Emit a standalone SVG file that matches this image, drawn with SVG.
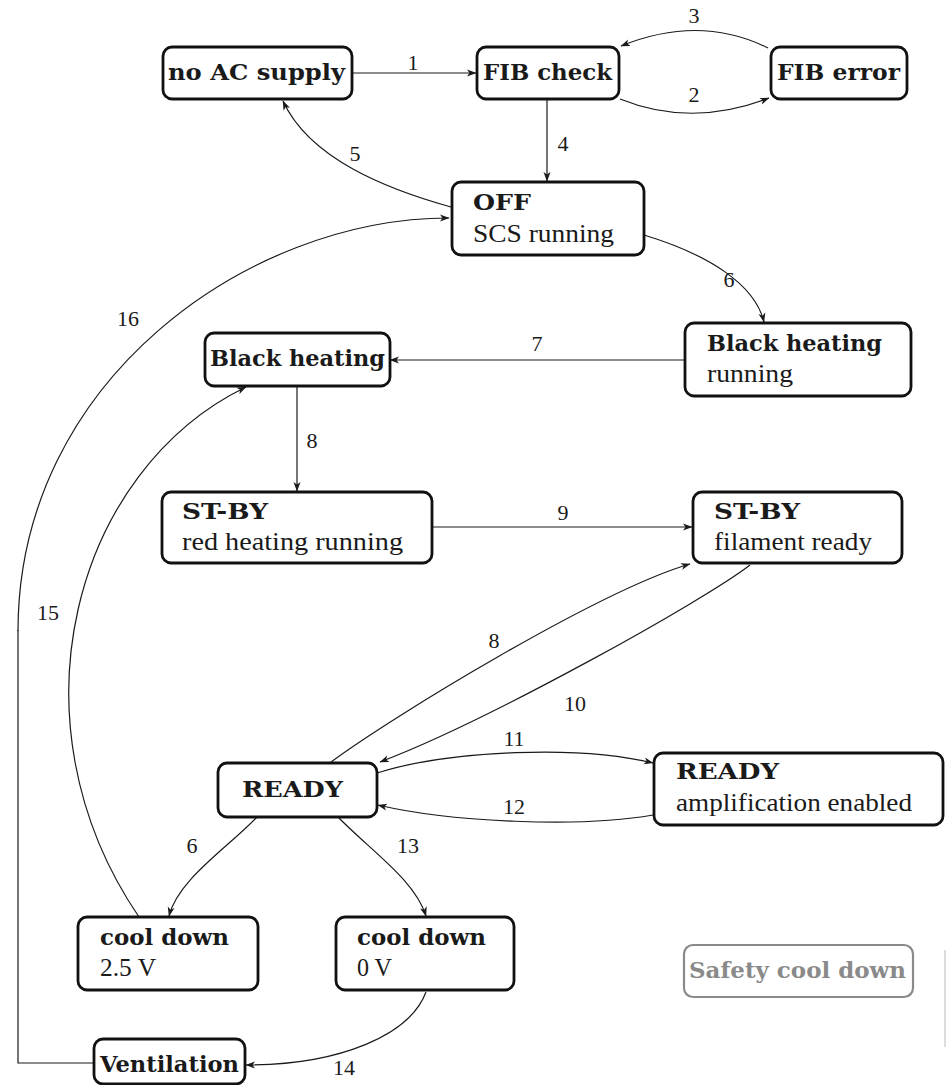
<svg xmlns="http://www.w3.org/2000/svg" width="947" height="1085" viewBox="0 0 947 1085">
<defs>
<marker id="ah" markerWidth="10" markerHeight="8" refX="9" refY="4" orient="auto" markerUnits="userSpaceOnUse">
<path d="M0,0.5 L9.5,4 L0,7.5 L2.5,4 z" fill="#1a1a1a"/>
</marker>
<style>
.box{fill:#fff;stroke:#111;stroke-width:2.8}
.gbox{fill:#fff;stroke:#8a8a8a;stroke-width:2.2}
.t{font-family:'DejaVu Serif','Liberation Serif',serif;font-size:22px;fill:#1a1a1a;font-weight:bold}
.r{font-family:'Liberation Serif','DejaVu Serif',serif;font-size:25px;fill:#1a1a1a}
.g{font-family:'DejaVu Serif','Liberation Serif',serif;font-size:22px;fill:#8a8a8a;font-weight:bold}
.l{font-family:'Liberation Serif','DejaVu Serif',serif;font-size:22px;fill:#1a1a1a;text-anchor:middle}
.c{fill:none;stroke:#1a1a1a;stroke-width:1.2;marker-end:url(#ah)}
.cn{fill:none;stroke:#1a1a1a;stroke-width:1.2}
</style>
</defs>
<rect width="947" height="1085" fill="#fff"/>

<g id="connectors">
<path class="c" d="M352,73 L476,73"/>
<path class="c" d="M768,48 Q700,14 621,46"/>
<path class="c" d="M620,99 Q692,128 769,98"/>
<path class="c" d="M547,99 L547,181"/>
<path class="c" d="M451,207 C390,190 310,160 283,101"/>
<path class="c" d="M644,235 C710,255 755,285 764,322"/>
<path class="c" d="M685,360 L390,360"/>
<path class="c" d="M297,386 L297,491"/>
<path class="c" d="M432,527 L692,527"/>
<path class="cn" d="M94,1063 L18,1063 L18,630"/>
<path class="c" d="M18,631 C18,380 249,218 449,218"/>
<path class="c" d="M139,917 C5,720 75,470 246,387"/>
<path class="c" d="M331,762 C390,718 600,590 690,564"/>
<path class="c" d="M750,565 C705,600 490,720 380,762"/>
<path class="c" d="M377,773 C450,750 580,745 653,763"/>
<path class="c" d="M653,815 C580,828 450,822 378,805"/>
<path class="c" d="M257,817 C225,850 178,880 169,916"/>
<path class="c" d="M338,817 C370,850 415,880 426,916"/>
<path class="c" d="M426,992 C410,1035 340,1065 246,1065"/>
<line x1="945" y1="950" x2="945" y2="1047" stroke="#d0d0d0" stroke-width="1.5"/>
<text class="l" x="413" y="70">1</text>
<text class="l" x="694" y="23">3</text>
<text class="l" x="694" y="102">2</text>
<text class="l" x="563" y="151">4</text>
<text class="l" x="355" y="161">5</text>
<text class="l" x="729" y="287">6</text>
<text class="l" x="128" y="326">16</text>
<text class="l" x="537" y="351">7</text>
<text class="l" x="312" y="448">8</text>
<text class="l" x="563" y="520">9</text>
<text class="l" x="48" y="620">15</text>
<text class="l" x="494" y="648">8</text>
<text class="l" x="575" y="711">10</text>
<text class="l" x="514" y="746">11</text>
<text class="l" x="514" y="814">12</text>
<text class="l" x="192" y="853">6</text>
<text class="l" x="408" y="853">13</text>
<text class="l" x="344" y="1075">14</text>
</g>

<g id="n-noac"><rect class="box" x="163" y="47" width="189" height="52" rx="9"/><text class="t" x="168" y="80" textLength="177" lengthAdjust="spacingAndGlyphs">no AC supply</text></g>
<g id="n-fibcheck"><rect class="box" x="477" y="47" width="142" height="52" rx="9"/><text class="t" x="483" y="80" textLength="129" lengthAdjust="spacingAndGlyphs">FIB check</text></g>
<g id="n-fiberror"><rect class="box" x="771" y="47" width="136" height="52" rx="9"/><text class="t" x="777" y="80" textLength="123" lengthAdjust="spacingAndGlyphs">FIB error</text></g>
<g id="n-off"><rect class="box" x="452" y="182" width="192" height="73" rx="9"/><text class="t" x="473" y="210" textLength="58" lengthAdjust="spacingAndGlyphs">OFF</text><text class="r" x="473" y="242" textLength="141" lengthAdjust="spacingAndGlyphs">SCS running</text></g>
<g id="n-bhrun"><rect class="box" x="685" y="323" width="226" height="73" rx="9"/><text class="t" x="707" y="351" textLength="175" lengthAdjust="spacingAndGlyphs">Black heating</text><text class="r" x="707" y="382" textLength="86" lengthAdjust="spacingAndGlyphs">running</text></g>
<g id="n-bh"><rect class="box" x="205" y="333" width="185" height="53" rx="9"/><text class="t" x="210" y="366" textLength="175" lengthAdjust="spacingAndGlyphs">Black heating</text></g>
<g id="n-stbyred"><rect class="box" x="162" y="492" width="270" height="71" rx="9"/><text class="t" x="182" y="519" textLength="86" lengthAdjust="spacingAndGlyphs">ST-BY</text><text class="r" x="182" y="550" textLength="221" lengthAdjust="spacingAndGlyphs">red heating running</text></g>
<g id="n-stbyfil"><rect class="box" x="693" y="492" width="209" height="71" rx="9"/><text class="t" x="714" y="519" textLength="86" lengthAdjust="spacingAndGlyphs">ST-BY</text><text class="r" x="714" y="550" textLength="158" lengthAdjust="spacingAndGlyphs">filament ready</text></g>
<g id="n-ready"><rect class="box" x="218" y="763" width="159" height="54" rx="9"/><text class="t" x="242" y="797" textLength="101" lengthAdjust="spacingAndGlyphs">READY</text></g>
<g id="n-readyamp"><rect class="box" x="654" y="753" width="289" height="72" rx="9"/><text class="t" x="676" y="779" textLength="103" lengthAdjust="spacingAndGlyphs">READY</text><text class="r" x="676" y="811" textLength="236" lengthAdjust="spacingAndGlyphs">amplification enabled</text></g>
<g id="n-cool25"><rect class="box" x="78" y="917" width="180" height="73" rx="9"/><text class="t" x="100" y="945" textLength="129" lengthAdjust="spacingAndGlyphs">cool down</text><text class="r" x="100" y="976" textLength="56" lengthAdjust="spacingAndGlyphs">2.5 V</text></g>
<g id="n-cool0"><rect class="box" x="336" y="917" width="178" height="73" rx="9"/><text class="t" x="357" y="945" textLength="129" lengthAdjust="spacingAndGlyphs">cool down</text><text class="r" x="357" y="976" textLength="35" lengthAdjust="spacingAndGlyphs">0 V</text></g>
<g id="n-safety"><rect class="gbox" x="684" y="945" width="229" height="52" rx="9"/><text class="g" x="689" y="978" textLength="217" lengthAdjust="spacingAndGlyphs">Safety cool down</text></g>
<g id="n-vent"><rect class="box" x="94" y="1039" width="151" height="45" rx="9"/><text class="t" x="100" y="1072" textLength="139" lengthAdjust="spacingAndGlyphs">Ventilation</text></g>
</svg>
